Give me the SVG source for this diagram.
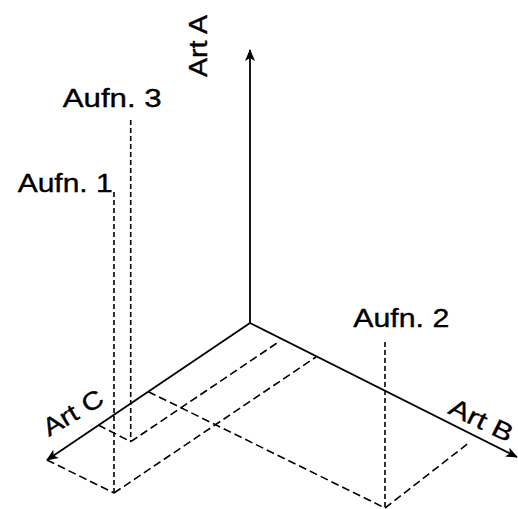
<svg xmlns="http://www.w3.org/2000/svg" width="518" height="509" viewBox="0 0 518 509">
<defs>
<style>
.axis{stroke:#000;stroke-width:1.8;fill:none}
.dv{stroke:#000;stroke-width:1.6;fill:none;stroke-dasharray:5 3}
.dd{stroke:#000;stroke-width:1.6;fill:none;stroke-dasharray:8 4}
.lbl{font-family:"Liberation Sans",Arial,sans-serif;font-size:25px;fill:#000;stroke:#000;stroke-width:0.35}
</style>
<marker id="arr" viewBox="0 0 12 10" refX="11" refY="5" markerWidth="12" markerHeight="10" markerUnits="userSpaceOnUse" orient="auto">
<path d="M0,0 L12,5 L0,10 L3,5 z" fill="#000"/>
</marker>
</defs>
<rect width="518" height="509" fill="#fff"/>
<g id="connectors">
<line class="axis" x1="250" y1="323" x2="250" y2="50" marker-end="url(#arr)"/>
<line class="axis" x1="250" y1="323" x2="47" y2="460" marker-end="url(#arr)"/>
<line class="axis" x1="250" y1="323" x2="517" y2="457" marker-end="url(#arr)"/>
<line class="dv" x1="130.7" y1="120" x2="130.7" y2="441.7"/>
<line class="dv" x1="114" y1="192" x2="114" y2="493"/>
<line class="dv" x1="385" y1="342" x2="385" y2="508"/>
<line class="dd" x1="98.3" y1="425" x2="130.7" y2="441.7"/>
<line class="dd" x1="130.7" y1="441.7" x2="280" y2="341"/>
<line class="dd" x1="47" y1="460" x2="114" y2="493"/>
<line class="dd" x1="114" y1="493" x2="316" y2="357"/>
<line class="dd" x1="148.3" y1="391.7" x2="385" y2="508"/>
<line class="dd" x1="385" y1="508" x2="470" y2="442"/>
</g>
<g id="artA"><text class="lbl" x="207" y="77" font-size="26" textLength="62" lengthAdjust="spacingAndGlyphs" transform="rotate(-90 207 77)">Art A</text></g>
<g id="artB"><text class="lbl" x="447" y="413" font-size="28" textLength="68" lengthAdjust="spacingAndGlyphs" transform="rotate(26 447 413)">Art B</text></g>
<g id="artC"><text class="lbl" x="49" y="437" font-size="28" textLength="66" lengthAdjust="spacingAndGlyphs" transform="rotate(-31 49 437)">Art C</text></g>
<g id="aufn1"><text class="lbl" x="17.7" y="192.3" textLength="95" lengthAdjust="spacingAndGlyphs">Aufn. 1</text></g>
<g id="aufn2"><text class="lbl" x="353.3" y="327.3" textLength="96" lengthAdjust="spacingAndGlyphs">Aufn. 2</text></g>
<g id="aufn3"><text class="lbl" x="62.7" y="107.3" textLength="99" lengthAdjust="spacingAndGlyphs">Aufn. 3</text></g>
</svg>
